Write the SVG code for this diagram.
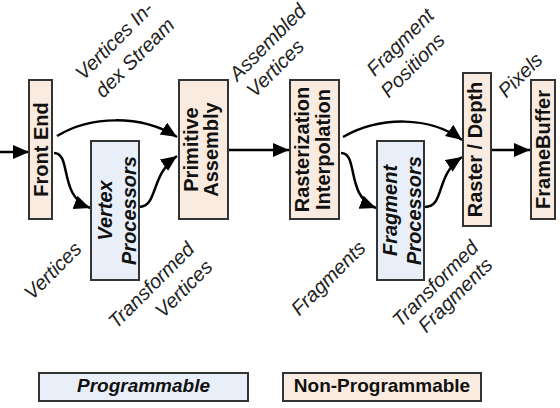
<svg xmlns="http://www.w3.org/2000/svg" width="560" height="408" viewBox="0 0 560 408">
<defs>
<marker id="ah" markerUnits="userSpaceOnUse" markerWidth="18" markerHeight="16" refX="16" refY="7" orient="auto">
<path d="M0,0 L16,7 L0,14 Z" fill="#000"/>
</marker>
<style>
.np{fill:#f9ebdf;stroke:#333;stroke-width:2}
.pr{fill:#e8eff9;stroke:#333;stroke-width:2}
.bt{font-family:"Liberation Sans",Arial,sans-serif;font-size:20px;font-weight:bold;fill:#111;text-anchor:middle}
.it{font-style:italic}
.lb{font-family:"Liberation Sans",Arial,sans-serif;font-size:20px;font-style:italic;fill:#222;text-anchor:middle}
.lg{font-family:"Liberation Sans",Arial,sans-serif;font-size:19px;font-weight:bold;fill:#111;text-anchor:middle}
.cn{fill:none;stroke:#000;stroke-width:2.5;marker-end:url(#ah)}
</style>
</defs>
<rect width="560" height="408" fill="#fff"/>
<g id="connectors">
<path class="cn" d="M0,152 L29,152"/>
<path class="cn" d="M57,136 C90,116 140,114 177,137"/>
<path class="cn" d="M54,153 C72,153 58,196 90,208"/>
<path class="cn" d="M139,207 C158,207 150,175 177,156"/>
<path class="cn" d="M229,150 L289,150"/>
<path class="cn" d="M343,137 C380,116 430,116 462,140"/>
<path class="cn" d="M341,153 C359,153 345,196 376,208"/>
<path class="cn" d="M425,207 C445,207 435,175 462,157"/>
<path class="cn" d="M491,150 L530,150"/>
</g>
<g id="front-end">
<rect class="np" x="29" y="80" width="23" height="139"/>
<text class="bt" transform="translate(40.5,149.5) rotate(-90)" y="7">Front End</text>
</g>
<g id="vertex-processors">
<rect class="pr" x="91" y="141" width="48" height="139"/>
<text class="bt it" transform="translate(115,210.5) rotate(-90)"><tspan x="0" y="-3">Vertex</tspan><tspan x="0" y="21">Processors</tspan></text>
</g>
<g id="primitive-assembly">
<rect class="np" x="179" y="80" width="49" height="139"/>
<text class="bt" transform="translate(203.5,149.5) rotate(-90)"><tspan x="0" y="-5.5">Primitive</tspan><tspan x="0" y="14.5">Assembly</tspan></text>
</g>
<g id="rasterization">
<rect class="np" x="290" y="80" width="49" height="139"/>
<text class="bt" transform="translate(314.5,149.5) rotate(-90)"><tspan x="0" y="-6">Rasterization</tspan><tspan x="0" y="15.5">Interpolation</tspan></text>
</g>
<g id="fragment-processors">
<rect class="pr" x="377" y="141" width="47" height="139"/>
<text class="bt it" transform="translate(400.5,210.5) rotate(-90)"><tspan x="0" y="-3.5">Fragment</tspan><tspan x="0" y="20.5">Processors</tspan></text>
</g>
<g id="raster-depth">
<rect class="np" x="463" y="73" width="28" height="153"/>
<text class="bt" transform="translate(477,149.5) rotate(-90)" y="4.5">Raster / Depth</text>
</g>
<g id="framebuffer">
<rect class="np" x="531" y="80" width="24" height="139"/>
<text class="bt" transform="translate(543,149.5) rotate(-90)" y="7">FrameBuffer</text>
</g>
<g id="labels">
<text class="lb" transform="translate(119,45.5) rotate(-45)">Vertices In-</text>
<text class="lb" transform="translate(139.5,62.5) rotate(-45)">dex Stream</text>
<text class="lb" transform="translate(272.5,47) rotate(-45)">Assembled</text>
<text class="lb" transform="translate(280,73) rotate(-45)">Vertices</text>
<text class="lb" transform="translate(405,47) rotate(-45)">Fragment</text>
<text class="lb" transform="translate(417.5,70) rotate(-45)">Positions</text>
<text class="lb" transform="translate(525,80) rotate(-45)">Pixels</text>
<text class="lb" transform="translate(57.5,275.5) rotate(-45)">Vertices</text>
<text class="lb" transform="translate(156,290) rotate(-45)">Transformed</text>
<text class="lb" transform="translate(188.5,293.5) rotate(-45)">Vertices</text>
<text class="lb" transform="translate(333,283) rotate(-45)">Fragments</text>
<text class="lb" transform="translate(440,288.5) rotate(-45)">Transformed</text>
<text class="lb" transform="translate(460,300) rotate(-45)">Fragments</text>
</g>
<g id="legend-programmable">
<rect class="pr" x="39" y="373" width="209" height="28"/>
<text class="lg it" x="143.5" y="392">Programmable</text>
</g>
<g id="legend-non-programmable">
<rect class="np" x="283" y="373" width="198" height="28"/>
<text class="lg" x="382" y="392">Non-Programmable</text>
</g>
</svg>
